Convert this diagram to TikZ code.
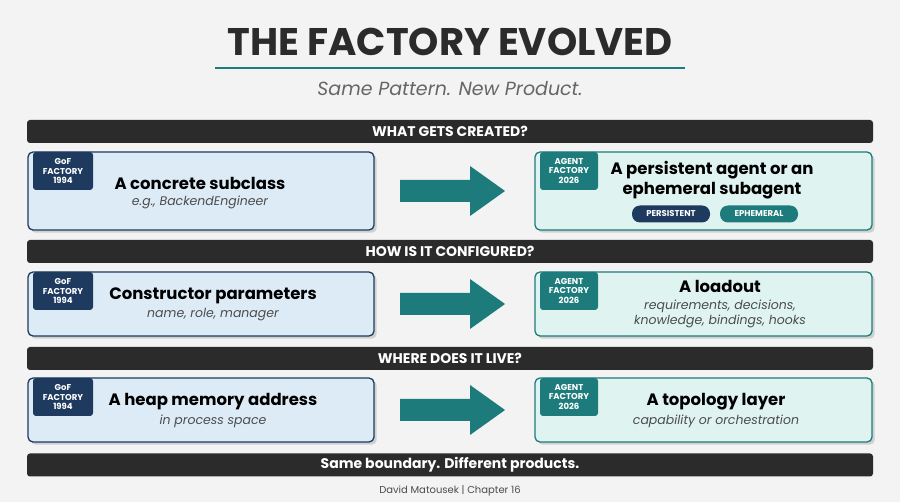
\documentclass[tikz,border=0pt]{standalone}
\usepackage{fontspec}
\setmainfont{Poppins}
\usetikzlibrary{shadows}
\definecolor{navy}{HTML}{1E3A5F}
\definecolor{teal2}{HTML}{1E7B7B}
\definecolor{bar}{HTML}{2B2B2B}
\definecolor{lblue}{HTML}{DDEBF7}
\definecolor{lteal}{HTML}{DFF4F0}
\definecolor{bg}{HTML}{F3F3F3}
\tikzset{
 leftbox/.style={fill=lblue,draw=navy,line width=1.3pt,rounded corners=5pt,drop shadow={opacity=0.3}},
 rightbox/.style={fill=lteal,draw=teal2,line width=1.3pt,rounded corners=5pt,drop shadow={opacity=0.3}},
 badge/.style={rounded corners=3pt,text=white,align=center,font=\bfseries\fontsize{8.5}{9.5}\selectfont},
 maintxt/.style={font=\bfseries\fontsize{16.5}{20}\selectfont,align=center},
 subtxt/.style={font=\itshape\fontsize{12.5}{15}\selectfont,text=black!70,align=center},
 pill/.style={rounded corners=8pt,text=white,font=\bfseries\fontsize{8.5}{10}\selectfont,minimum height=17pt,minimum width=78pt,inner sep=0pt}
}
\begin{document}
\begin{tikzpicture}[x=1pt,y=-1pt]
\fill[bg] (0,0) rectangle (900,502);
\useasboundingbox (0,0) rectangle (900,502);
\node[font=\bfseries\fontsize{38.5}{42}\selectfont,text=bar] (title) at (450,42) {THE FACTORY EVOLVED};
\draw[teal2,line width=2pt] (215,68) -- (685,68);
\node[font=\itshape\fontsize{19}{22}\selectfont,text=black!60] (subt) at (450,89) {Same Pattern. New Product.};
\foreach \y/\t/\n in {131.5/WHAT GETS CREATED?/b1,251.5/HOW IS IT CONFIGURED?/b2,358.5/WHERE DOES IT LIVE?/b3,465/Same boundary. Different products./b4}{
 \fill[bar,rounded corners=3pt] (27,\y-11.5) rectangle (873,\y+11.5);
 \node[text=white,font=\bfseries\fontsize{14}{16}\selectfont] (\n) at (450,\y) {\t};
}
\foreach \ya/\yb/\r in {152/230/1,272/336/2,378/442/3}{
 \draw[leftbox] (28,\ya) rectangle (374,\yb);
 \draw[rightbox] (535,\ya) rectangle (872,\yb);
 \fill[navy,rounded corners=3pt] (33,\ya) rectangle (93,\ya+38);
 \node[badge] (gb\r) at (63,\ya+19) {GoF\\FACTORY\\1994};
 \fill[teal2,rounded corners=3pt] (540,\ya) rectangle (598,\ya+38);
 \node[badge] (ab\r) at (569,\ya+19) {AGENT\\FACTORY\\2026};
 \fill[teal2] (400,{(\ya+\yb)/2-11}) -- (470,{(\ya+\yb)/2-11}) -- (470,{(\ya+\yb)/2-25}) -- (505,{(\ya+\yb)/2}) -- (470,{(\ya+\yb)/2+25}) -- (470,{(\ya+\yb)/2+11}) -- (400,{(\ya+\yb)/2+11}) -- cycle;
}
\node[maintxt] (l1) at (200,183) {A concrete subclass};
\node[subtxt] (l1s) at (200,202) {e.g., BackendEngineer};
\node[maintxt] (r1) at (712,180) {A persistent agent or an\\ephemeral subagent};
\node[pill,fill=navy] (p1) at (671,214) {PERSISTENT};
\node[pill,fill=teal2] (p2) at (759,214) {EPHEMERAL};
\node[maintxt] (l2) at (213,296) {Constructor parameters};
\node[subtxt] (l2s) at (213,315) {name, role, manager};
\node[maintxt] (r2) at (720,286) {A loadout};
\node[subtxt] (r2s) at (720,314) {requirements, decisions,\\knowledge, bindings, hooks};
\node[maintxt] (l3) at (213,402) {A heap memory address};
\node[subtxt] (l3s) at (213,421) {in process space};
\node[maintxt] (r3) at (716,402) {A topology layer};
\node[subtxt] (r3s) at (716,421) {capability or orchestration};
\node[font=\fontsize{10}{12}\selectfont,text=black!70] (foot) at (450,491) {David Matousek | Chapter 16};
\end{tikzpicture}
\end{document}
